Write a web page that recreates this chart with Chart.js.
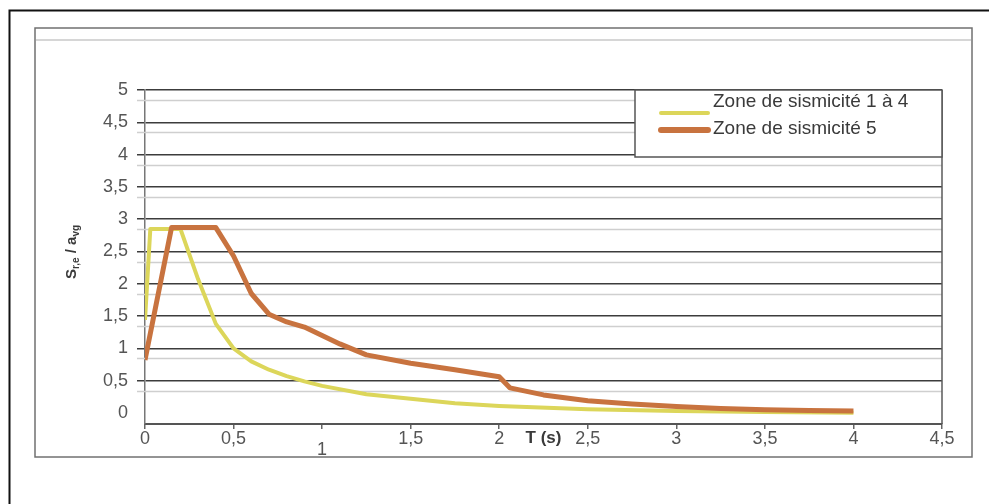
<!DOCTYPE html>
<html>
<head>
<meta charset="utf-8">
<script src="https://cdn.jsdelivr.net/npm/chart.js@4/dist/chart.umd.min.js"></script>
<style>
  html, body { margin: 0; padding: 0; background: #ffffff; }
  #wrap { width: 989px; height: 504px; }
</style>
</head>
<body>
<div id="wrap"><canvas id="spectre" width="989" height="504"></canvas></div>
<script>
// Spectre de réponse élastique normalisé Se/ag en fonction de la période T (s)
const seriesLabels = ['Zone de sismicité 1 à 4', 'Zone de sismicité 5'];

const periodsZone14 = [0, 0.03, 0.2, 0.3, 0.4, 0.5, 0.6, 0.7, 0.8, 0.9, 1.0, 1.25, 1.5, 1.75, 2.0, 2.5, 3.0, 3.5, 4.0];
const spectrumZone14 = [1.44, 2.85, 2.85, 2.07, 1.38, 1.0, 0.8, 0.67, 0.57, 0.49, 0.42, 0.29, 0.22, 0.15, 0.11, 0.06, 0.03, 0.015, 0.005];

const periodsZone5 = [0, 0.15, 0.4, 0.5, 0.6, 0.7, 0.8, 0.9, 1.0, 1.1, 1.25, 1.5, 1.75, 2.0, 2.06, 2.25, 2.5, 2.75, 3.0, 3.25, 3.5, 3.75, 4.0];
const spectrumZone5 = [0.82, 2.87, 2.87, 2.43, 1.85, 1.53, 1.41, 1.33, 1.2, 1.07, 0.9, 0.77, 0.67, 0.56, 0.39, 0.28, 0.19, 0.14, 0.1, 0.07, 0.05, 0.04, 0.03];

const xTickValues = [0, 0.5, 1, 1.5, 2, 2.5, 3, 3.5, 4, 4.5];
const yTickValues = [0, 0.5, 1, 1.5, 2, 2.5, 3, 3.5, 4, 4.5, 5];

const seriesColors = ['#dcd65a', '#c8733f'];
const seriesWidths = [4, 5];

function toPoints(xs, ys) {
  return xs.map((x, i) => ({ x: x, y: ys[i] }));
}
function frLabel(v) {
  return String(v).replace('.', ',');
}

// Cadres de la page, doublures claires du quadrillage, légende et titres d'axes
const decorPlugin = {
  id: 'decor',
  beforeDraw(chart) {
    const c = chart.ctx;
    c.save();
    c.fillStyle = '#ffffff';
    c.fillRect(0, 0, chart.width, chart.height);
    // cadre extérieur
    c.strokeStyle = '#111111';
    c.lineWidth = 2;
    c.beginPath();
    c.moveTo(9.5, chart.height);
    c.lineTo(9.5, 10.5);
    c.lineTo(chart.width, 10.5);
    c.stroke();
    // cadre gris du graphique
    c.strokeStyle = '#707070';
    c.lineWidth = 1.5;
    c.strokeRect(35, 28, 937, 429);
    c.strokeStyle = '#d6d6d6';
    c.lineWidth = 2;
    c.beginPath();
    c.moveTo(36, 40);
    c.lineTo(971, 40);
    c.stroke();
    c.restore();
  },
  beforeDatasetsDraw(chart) {
    const c = chart.ctx;
    const ys = chart.scales.y;
    const area = chart.chartArea;
    c.save();
    c.strokeStyle = '#cfcfcf';
    c.lineWidth = 1.5;
    yTickValues.forEach(v => {
      if (v === 0) return;
      const py = Math.round(ys.getPixelForValue(v - 0.155)) + 0.5;
      c.beginPath();
      c.moveTo(area.left - 8, py);
      c.lineTo(area.right, py);
      c.stroke();
    });
    c.restore();
  },
  afterDraw(chart) {
    const c = chart.ctx;
    const area = chart.chartArea;
    const xs = chart.scales.x;
    c.save();
    // bord droit de la zone de tracé
    c.strokeStyle = '#5a5a5a';
    c.lineWidth = 1.5;
    c.beginPath();
    c.moveTo(area.right, area.top);
    c.lineTo(area.right, area.bottom);
    c.stroke();

    // légende
    const lx = area.right - 307, ly = area.top, lw = 307, lh = 67;
    c.fillStyle = '#ffffff';
    c.fillRect(lx, ly, lw, lh);
    c.strokeStyle = '#555555';
    c.lineWidth = 1.5;
    c.strokeRect(lx, ly, lw, lh);
    const rows = [
      { swatchY: ly + 23, textY: ly + 12 },
      { swatchY: ly + 40, textY: ly + 39 }
    ];
    chart.data.datasets.forEach((ds, i) => {
      c.strokeStyle = ds.borderColor;
      c.lineWidth = i === 0 ? 4 : 6;
      c.lineCap = 'round';
      c.beginPath();
      c.moveTo(lx + 26, rows[i].swatchY);
      c.lineTo(lx + 73, rows[i].swatchY);
      c.stroke();
      c.fillStyle = '#3a3a3a';
      c.font = '19px "Liberation Sans", Arial, sans-serif';
      c.textBaseline = 'middle';
      c.textAlign = 'left';
      c.fillText(ds.label, lx + 78, rows[i].textY);
    });

    // titre de l'axe des abscisses
    c.fillStyle = '#3a3a3a';
    c.font = 'bold 17px "Liberation Sans", Arial, sans-serif';
    c.textAlign = 'center';
    c.textBaseline = 'middle';
    c.fillText('T (s)', xs.getPixelForValue(2.25), area.bottom + 14);

    // titre de l'axe des ordonnées : Se / avg
    c.translate(72, 252);
    c.rotate(-Math.PI / 2);
    const parts = [
      { t: 'S', f: 'bold 15px', dy: 0 },
      { t: 'r,e', f: 'bold 10px', dy: 4 },
      { t: ' / a', f: 'bold 15px', dy: 0 },
      { t: 'vg', f: 'bold 10px', dy: 4 }
    ];
    let total = 0;
    parts.forEach(p => { c.font = p.f + ' "Liberation Sans", Arial, sans-serif'; total += c.measureText(p.t).width; });
    let cx = -total / 2;
    c.textAlign = 'left';
    parts.forEach(p => {
      c.font = p.f + ' "Liberation Sans", Arial, sans-serif';
      c.fillText(p.t, cx, p.dy);
      cx += c.measureText(p.t).width;
    });
    c.restore();
  }
};

new Chart(document.getElementById('spectre'), {
  type: 'scatter',
  data: {
    datasets: [
      {
        label: seriesLabels[0],
        data: toPoints(periodsZone14, spectrumZone14),
        showLine: true,
        borderColor: seriesColors[0],
        backgroundColor: seriesColors[0],
        borderWidth: seriesWidths[0],
        pointRadius: 0,
        tension: 0,
        borderJoinStyle: 'round',
        order: 2
      },
      {
        label: seriesLabels[1],
        data: toPoints(periodsZone5, spectrumZone5),
        showLine: true,
        borderColor: seriesColors[1],
        backgroundColor: seriesColors[1],
        borderWidth: seriesWidths[1],
        pointRadius: 0,
        tension: 0,
        borderJoinStyle: 'round',
        order: 1
      }
    ]
  },
  options: {
    responsive: false,
    animation: false,
    devicePixelRatio: 1,
    layout: { padding: { top: 90, right: 47, left: 0, bottom: 0 } },
    plugins: {
      legend: { display: false },
      tooltip: { enabled: false }
    },
    scales: {
      x: {
        type: 'linear',
        min: 0,
        max: 4.5,
        afterFit(scale) { scale.height = 80; },
        afterBuildTicks(scale) { scale.ticks = xTickValues.map(v => ({ value: v })); },
        ticks: {
          color: '#555555',
          font: { family: '"Liberation Sans", Arial, sans-serif', size: 18, lineHeight: 0.6 },
          padding: 5,
          maxRotation: 0,
          autoSkip: false,
          callback(v) { return v === 1 ? ['', '1'] : frLabel(v); }
        },
        grid: { drawOnChartArea: false, drawTicks: true, tickLength: 5, color: '#666666', lineWidth: 1.5 },
        border: { display: true, color: '#555555', width: 2 }
      },
      y: {
        type: 'linear',
        min: -0.17,
        max: 5,
        afterFit(scale) { scale.width = 145; },
        afterBuildTicks(scale) { scale.ticks = yTickValues.map(v => ({ value: v })); },
        ticks: {
          color: '#555555',
          font: { family: '"Liberation Sans", Arial, sans-serif', size: 18 },
          padding: 9,
          autoSkip: false,
          callback(v) { return frLabel(v); }
        },
        grid: {
          drawTicks: true,
          tickLength: 8,
          lineWidth: 1.5,
          color(ctx) { return ctx.tick && ctx.tick.value === 0 ? 'rgba(0,0,0,0)' : '#3c3c3c'; }
        },
        border: { display: true, color: '#777777', width: 1.5 }
      }
    }
  },
  plugins: [decorPlugin]
});
</script>
</body>
</html>
